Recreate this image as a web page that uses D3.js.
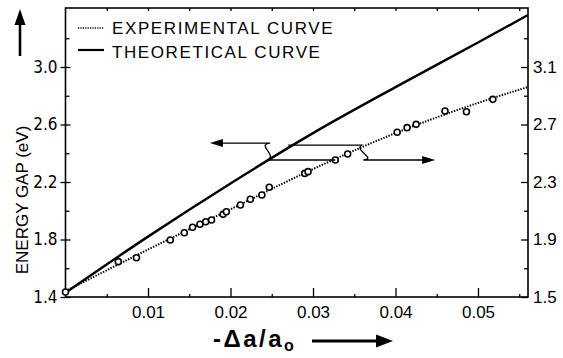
<!DOCTYPE html>
<html>
<head>
<meta charset="utf-8">
<script src="https://cdn.jsdelivr.net/npm/d3@7"></script>
<style>
 body { margin: 0; background: #fff; }
 text { font-family: "Liberation Sans", Arial, sans-serif; fill: #000; }
</style>
</head>
<body>
<div id="chart"></div>
<script>
// measured points (-delta a / a0, energy gap on left axis)
var strain = [0, 0.0064, 0.0086, 0.0127, 0.0144, 0.0154, 0.0163, 0.0170, 0.0177, 0.0191,
              0.0195, 0.0212, 0.0224, 0.0238, 0.0247, 0.0290, 0.0294, 0.0327, 0.0342,
              0.0402, 0.0414, 0.0425, 0.0460, 0.0486, 0.0518];
var gapExp = [1.435, 1.646, 1.673, 1.797, 1.847, 1.885, 1.906, 1.924, 1.936, 1.975,
              1.993, 2.04, 2.08, 2.11, 2.163, 2.26, 2.272, 2.353, 2.395,
              2.546, 2.578, 2.601, 2.694, 2.689, 2.775];

// smooth curves
var curveX = [0, 0.01, 0.02, 0.03, 0.04, 0.05, 0.056];
var expCurve = [1.44, 1.73, 2.01, 2.29, 2.54, 2.75, 2.86];      // left axis
var theoCurve = [1.53, 1.92, 2.29, 2.64, 2.96, 3.27, 3.46];     // right axis

// tick values
var xMajor = [0.01, 0.02, 0.03, 0.04, 0.05];
var xMinor = [0.005, 0.015, 0.025, 0.035, 0.045, 0.055];
var leftMajor = [1.4, 1.8, 2.2, 2.6, 3.0];
var leftMinor = [1.6, 2.0, 2.4, 2.8, 3.2];
var rightMajor = [1.5, 1.9, 2.3, 2.7, 3.1];
var rightMinor = [1.7, 2.1, 2.5, 2.9, 3.3];

// callout arrows, in data units (x, left-axis energy)
var leftArrow = [[0.0327, 2.353], [0.0246, 2.353], [0.0248, 2.471], [0.0175, 2.471]];
var rightArrow = [[0.0270, 2.457], [0.0359, 2.457], [0.0361, 2.353], [0.0448, 2.353]];

var margin = {top: 8, right: 35, bottom: 61, left: 65.5},
    width = 563 - margin.left - margin.right,
    height = 358 - margin.top - margin.bottom;

var x = d3.scaleLinear().domain([0, width / 8250]).range([0, width]);
var yL = d3.scaleLinear().domain([1.4, 1.4 + height / 143.75]).range([height, 0]);
var yR = d3.scaleLinear().domain([1.5, 1.5 + height / 143.75]).range([height, 0]);

var svg = d3.select("#chart").append("svg")
    .attr("width", 563)
    .attr("height", 358);
var g = svg.append("g")
    .attr("transform", "translate(" + margin.left + "," + margin.top + ")");

var fmt = d3.format(".1f");

// bottom axis
var xa = g.append("g").attr("transform", "translate(0," + height + ")")
    .call(d3.axisBottom(x).tickValues(xMajor).tickSize(-9).tickPadding(9).tickFormat(d3.format(".2f")));
xa.selectAll("text").style("font-size", "17px");
g.append("g").attr("transform", "translate(0," + height + ")")
    .call(d3.axisBottom(x).tickValues(xMinor).tickSize(-3).tickFormat(""));
// top ticks
g.append("g")
    .call(d3.axisTop(x).tickValues(xMajor.concat(xMinor)).tickSize(-3).tickFormat(""));

// left axis
var la = g.append("g")
    .call(d3.axisLeft(yL).tickValues(leftMajor).tickSize(5).tickPadding(3).tickFormat(fmt));
la.selectAll("line").attr("x1", 5);
la.selectAll("text")
    .style("font-family", "'Liberation Sans Narrow','DejaVu Sans Condensed',sans-serif")
    .style("font-size", "17px");
g.append("g")
    .call(d3.axisLeft(yL).tickValues(leftMinor).tickSize(-4).tickFormat(""));

// right axis
var ra = g.append("g").attr("transform", "translate(" + width + ",0)")
    .call(d3.axisRight(yR).tickValues(rightMajor).tickSize(-7).tickPadding(5).tickFormat(fmt));
ra.selectAll("text").style("font-size", "17px");
g.append("g").attr("transform", "translate(" + width + ",0)")
    .call(d3.axisRight(yR).tickValues(rightMinor).tickSize(-4).tickFormat(""));

g.selectAll(".domain").remove();
g.selectAll(".tick line").attr("stroke", "#000").attr("stroke-width", 1.3);

// frame
g.append("rect")
    .attr("width", width).attr("height", height)
    .attr("fill", "none").attr("stroke", "#000").attr("stroke-width", 1.6);

// theoretical curve
var theoLine = d3.line()
    .curve(d3.curveMonotoneX)
    .x(function(d, i) { return x(curveX[i]); })
    .y(function(d) { return yR(d); });
g.append("path")
    .datum(theoCurve)
    .attr("fill", "none").attr("stroke", "#000").attr("stroke-width", 2.4)
    .attr("d", theoLine);

// experimental curve
var expLine = d3.line()
    .curve(d3.curveMonotoneX)
    .x(function(d, i) { return x(curveX[i]); })
    .y(function(d) { return yL(d); });
g.append("path")
    .datum(expCurve)
    .attr("fill", "none").attr("stroke", "#000").attr("stroke-width", 2)
    .attr("stroke-dasharray", "1.4,1.4")
    .attr("d", expLine);

// data points
g.selectAll("circle.pt")
    .data(strain)
  .enter().append("circle")
    .attr("class", "pt")
    .attr("cx", function(d) { return x(d); })
    .attr("cy", function(d, i) { return yL(gapExp[i]); })
    .attr("r", 3)
    .attr("fill", "#fff").attr("stroke", "#000").attr("stroke-width", 1.6);

// callout arrows with a little hook where they jump the other curve
function callout(pts, dir) {
  var p = pts.map(function(d) { return [x(d[0]), yL(d[1])]; });
  var path = d3.path();
  path.moveTo(p[0][0], p[0][1]);
  path.lineTo(p[1][0], p[1][1]);
  var dy = p[2][1] - p[1][1];
  path.bezierCurveTo(p[1][0] - 8 * dir, p[1][1] + dy * 0.35,
                     p[2][0] + 14 * dir, p[2][1] - dy * 0.1,
                     p[2][0], p[2][1]);
  path.lineTo(p[3][0] - 10 * dir, p[3][1]);
  g.append("path").attr("d", path.toString())
    .attr("fill", "none").attr("stroke", "#000").attr("stroke-width", 1.3);
  var tip = p[3];
  g.append("path")
    .attr("d", "M" + tip[0] + "," + tip[1] +
               "L" + (tip[0] - 13 * dir) + "," + (tip[1] - 4) +
               "L" + (tip[0] - 13 * dir) + "," + (tip[1] + 4) + "Z")
    .attr("fill", "#000");
}
callout(leftArrow, -1);
callout(rightArrow, 1);

// legend
var legend = svg.append("g");
legend.append("line").attr("x1", 78).attr("x2", 104).attr("y1", 28).attr("y2", 28)
    .attr("stroke", "#000").attr("stroke-width", 1.6).attr("stroke-dasharray", "1.2,1.2");
legend.append("text").attr("x", 112).attr("y", 34)
    .style("font-size", "17px").style("letter-spacing", "1.6px")
    .text("EXPERIMENTAL CURVE");
legend.append("line").attr("x1", 78).attr("x2", 104).attr("y1", 50).attr("y2", 50)
    .attr("stroke", "#000").attr("stroke-width", 2.2);
legend.append("text").attr("x", 112).attr("y", 58)
    .style("font-size", "17px").style("letter-spacing", "1.6px")
    .text("THEORETICAL CURVE");

// y title and arrow
svg.append("text")
    .attr("transform", "translate(28,200) rotate(-90)")
    .style("text-anchor", "middle")
    .style("font-size", "17px")
    .text("ENERGY GAP (eV)");
svg.append("line").attr("x1", 20).attr("x2", 20).attr("y1", 56).attr("y2", 22)
    .attr("stroke", "#000").attr("stroke-width", 2.6);
svg.append("path").attr("d", "M20,9L14.5,25L25.5,25Z").attr("fill", "#000");

// x title and arrow
var xt = svg.append("text")
    .attr("x", 213).attr("y", 347)
    .style("font-size", "24px").style("font-weight", "bold").style("letter-spacing", "2.5px");
xt.append("tspan").text("-\u0394a/a");
xt.append("tspan").attr("dy", 4).style("font-size", "16px").text("o");
svg.append("line").attr("x1", 312).attr("x2", 378).attr("y1", 341).attr("y2", 341)
    .attr("stroke", "#000").attr("stroke-width", 3);
svg.append("path").attr("d", "M376,334.5L393,341L376,347.5Z").attr("fill", "#000");
</script>
</body>
</html>
